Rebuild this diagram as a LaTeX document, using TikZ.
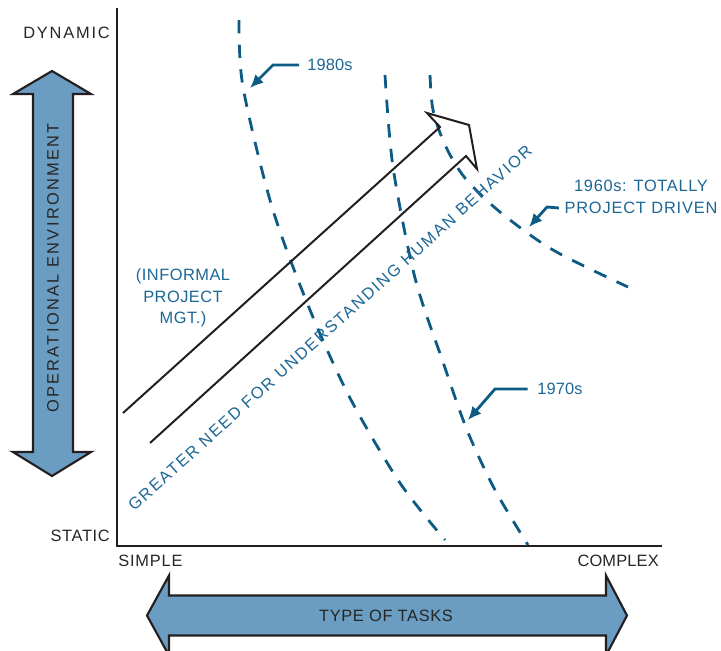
\documentclass[tikz,border=0pt]{standalone}
\usepackage{fontspec}
\setmainfont{Liberation Sans}
\usetikzlibrary{arrows.meta}
\definecolor{afill}{HTML}{6A9DC1}
\definecolor{aline}{HTML}{231F20}
\definecolor{tblue}{HTML}{1C6795}
\definecolor{dblue}{HTML}{0D5B82}
\definecolor{tdark}{HTML}{262626}
\newcommand{\trk}[1]{\addfontfeatures{LetterSpace=#1}}
\begin{document}
\begin{tikzpicture}[x=0.75pt,y=-0.75pt,
  lbl/.style={font={\fontsize{12.3}{16.2}\selectfont\trk{#1}}, text=tdark, inner sep=0pt},
  lbl/.default=4,
  blbl/.style={lbl=#1, text=tblue},
  blbl/.default=4,
  fatarrow/.style={fill=afill, draw=aline, line width=1.6pt, line join=miter},
  era/.style={draw=dblue, line width=2.1pt, dash pattern=on 10pt off 8.5pt},
  callout/.style={draw=dblue, line width=2.1pt, -{Latex[length=10pt,width=9pt]}},
  bigarrow/.style={draw=aline, line width=1.5pt, line join=miter},
  axis/.style={draw=aline, line width=1.7pt}]
\useasboundingbox (0,0) rectangle (721,650);

% axes
\draw[axis] (117,8) -- (117,546) -- (662,546);

% vertical double arrow
\draw[fatarrow] (52,71) -- (91,94) -- (73,94) -- (73,452) -- (91,452) -- (52,476)
  -- (13,452) -- (33,452) -- (33,94) -- (13,94) -- cycle;
\node[lbl=14, rotate=90] (ope) at (53,268) {OPERATIONAL ENVIRONMENT};

% horizontal double arrow
\draw[fatarrow] (147,615.5) -- (169,575.5) -- (169,595.5) -- (606,595.5) -- (606,575.5)
  -- (627,615.5) -- (606,655.5) -- (606,635.5) -- (169,635.5) -- (169,655.5) -- cycle;
\node[lbl=4] (tot) at (386,615.5) {TYPE OF TASKS};

% axis labels
\node[lbl=11, anchor=east] (dyn) at (110,33) {DYNAMIC};
\node[lbl=4, anchor=east] (sta) at (110,536) {STATIC};
\node[lbl=5, anchor=west] (sim) at (118,561) {SIMPLE};
\node[lbl=1, anchor=east] (cpx) at (659,561) {COMPLEX};

% era curves
\draw[era] plot[smooth] coordinates {(239,20) (243,87) (272,207) (310,310) (350,398) (400,483) (445,540)};
\draw[era] plot[smooth] coordinates {(385,75) (393,167) (415,278) (443,362) (467,430) (495,490) (528,545)};
\draw[era] plot[smooth] coordinates {(430,75) (433,110) (445,145) (465,178) (500,212) (553,250) (628,287)};

% big open arrow
\draw[bigarrow] (123,413) -- (440,127) -- (427,113) -- (469,125) -- (477,169) -- (466,156) -- (150,443);
\node[blbl=11, rotate=42] (need) at (330,328) {GREATER NEED FOR UNDERSTANDING HUMAN BEHAVIOR};

% informal label
\node[blbl=3, align=center] (inf) at (183,298) {(INFORMAL\\PROJECT\\MGT.)};

% era labels and callouts
\node[blbl=1, anchor=west] (l80) at (307,65) {1980s};
\coordinate (t80) at (250,88);
\draw[callout] ([xshift=-6pt]l80.west) -- (273,65) -- (t80);

\node[blbl=1, anchor=west] (l70) at (537,389) {1970s};
\coordinate (t70) at (468,420);
\draw[callout] ([xshift=-7pt]l70.west) -- (495,389) -- (t70);

\node[blbl=4] (l60a) at (641,186) {1960s: TOTALLY};
\node[blbl=5] (l60b) at (641,208) {PROJECT DRIVEN};
\coordinate (t60) at (529,227);
\draw[callout] ([xshift=-4pt]l60b.west) -- (547,207) -- (t60);
\end{tikzpicture}
\end{document}
